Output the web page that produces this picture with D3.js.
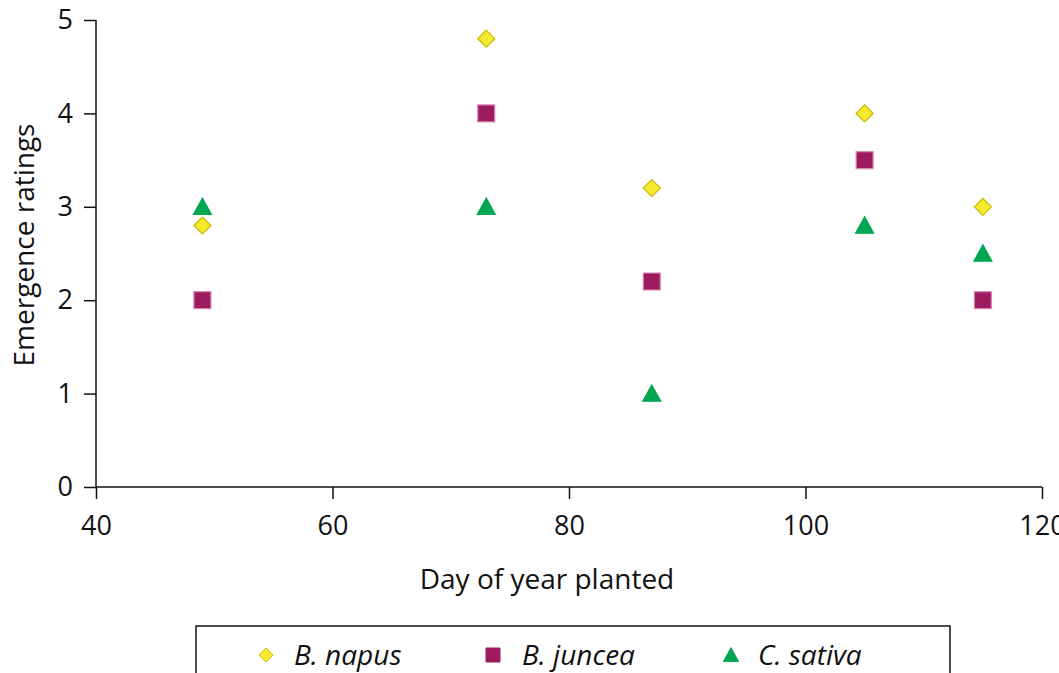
<!DOCTYPE html>
<html><head><meta charset="utf-8">
<script src="https://cdn.jsdelivr.net/npm/d3@7"></script>
<style>body{margin:0;background:#fff}svg{display:block}text{font-family:"Open Sans","Noto Sans",sans-serif;fill:#111}</style>
</head><body><svg id="c" width="1059" height="673"></svg>
<script>
const days=[49,73,87,105,115];
const napus=[2.8,4.8,3.2,4.0,3.0];
const juncea=[2,4,2.2,3.5,2];
const sativa=[3,3,1,2.8,2.5];
const xTicks=[40,60,80,100,120];
const yTicks=[0,1,2,3,4,5];
const series=[
 {name:"B. napus",vals:napus,shape:"diamond",fill:"#f7e92e",stroke:"#c9b800"},
 {name:"B. juncea",vals:juncea,shape:"square",fill:"#9e1b5f",stroke:"#d98ab4"},
 {name:"C. sativa",vals:sativa,shape:"triangle",fill:"#00a651",stroke:"#00a651"}
];
const svg=d3.select("#c");
const x=d3.scaleLinear().domain([40,120]).range([96,1042]);
const y=d3.scaleLinear().domain([0,5]).range([487,20]);
const xa=svg.append("g").attr("transform","translate(0,487)")
 .call(d3.axisBottom(x).tickValues(xTicks).tickFormat(d3.format("d")).tickSize(12).tickPadding(17));
const ya=svg.append("g").attr("transform","translate(96,0)")
 .call(d3.axisLeft(y).tickValues(yTicks).tickFormat(d3.format("d")).tickSize(12).tickPadding(11));
[xa,ya].forEach(a=>{a.select(".domain").remove();a.selectAll("line").attr("stroke","#111").attr("stroke-width",1.5);
 a.selectAll("text").style("font-size","27px").attr("fill","#111");});
svg.append("line").attr("x1",x(40)).attr("x2",x(120)).attr("y1",y(0)).attr("y2",y(0)).attr("stroke","#111").attr("stroke-width",1.5);
svg.append("line").attr("x1",x(40)).attr("x2",x(40)).attr("y1",y(0)).attr("y2",y(5)).attr("stroke","#111").attr("stroke-width",1.5);
svg.append("text").attr("x",547).attr("y",589).attr("text-anchor","middle").style("font-size","28px").text("Day of year planted");
svg.append("text").attr("transform","translate(34,245) rotate(-90)").attr("text-anchor","middle").style("font-size","28px").text("Emergence ratings");
function shapePath(shape,s){
 if(shape==="diamond") return `M0,${-s/2}L${s/2},0L0,${s/2}L${-s/2},0Z`;
 if(shape==="square") return `M${-s/2},${-s/2}h${s}v${s}h${-s}Z`;
 const h=s*0.85; return `M0,${-h/2-1}L${s/2},${h/2}L${-s/2},${h/2}Z`;
}
const sizes={diamond:17,square:17,triangle:18};
series.forEach(se=>{
 svg.append("g").selectAll("path").data(se.vals).join("path")
  .attr("transform",(d,i)=>`translate(${x(days[i])},${y(d)})`)
  .attr("d",shapePath(se.shape,sizes[se.shape]))
  .attr("fill",se.fill).attr("stroke",se.stroke).attr("stroke-width",1.2);
});
// legend
svg.append("rect").attr("x",196).attr("y",626).attr("width",754).attr("height",60).attr("fill","none").attr("stroke","#111").attr("stroke-width",1.5);
const lx=[266,493,731], tx=[294,522,758];
const lsz={diamond:14,square:14,triangle:15};
series.forEach((se,i)=>{
 svg.append("path").attr("transform",`translate(${lx[i]},655)`).attr("d",shapePath(se.shape,lsz[se.shape]))
  .attr("fill",se.fill).attr("stroke",se.shape==="diamond"?se.stroke:se.fill).attr("stroke-width",1);
 svg.append("text").attr("x",tx[i]).attr("y",665).style("font-size","28px").style("font-style","italic").text(se.name);
});
</script></body></html>
